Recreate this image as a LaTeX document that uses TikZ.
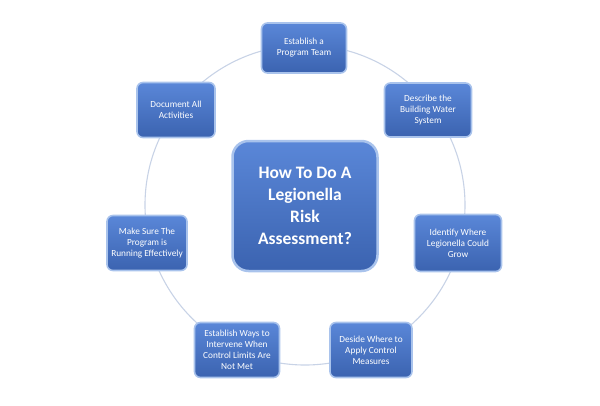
\documentclass[tikz,border=0pt]{standalone}
\usepackage{fontspec}
\setmainfont{Carlito}
\usepackage{tikz}
\definecolor{boxblue}{HTML}{4472C4}
\definecolor{boxtop}{HTML}{5A87D8}
\definecolor{boxbot}{HTML}{3B63B0}
\definecolor{ringgray}{HTML}{C8D3E6}
\definecolor{glow}{HTML}{A9C3EC}

\begin{document}
\begin{tikzpicture}[x=1pt, y=-1pt, font=\fontsize{9.3}{11}\selectfont,
    stepbox/.style={rounded corners=6pt, top color=boxtop, bottom color=boxbot,
      draw=glow, line width=1.6pt, text=white, align=center, inner sep=1pt},
    hubbox/.style={rounded corners=16pt, top color=boxtop, bottom color=boxbot,
      draw=glow, line width=2.5pt, text=white, align=center,
      font=\fontsize{17.5}{22}\selectfont\bfseries}]
  \useasboundingbox (0,0) rectangle (600,405);
  % ring behind the steps
  \draw[ringgray, line width=1.1pt] (305,205) circle (160);
  \node[hubbox, minimum width=145pt, minimum height=130pt] (hub) at (305,206)
    {How To Do A\\ Legionella\\ Risk\\ Assessment?};
  \node[stepbox, minimum width=85pt, minimum height=50pt] (team) at (304,48) {Establish a\\ Program Team};
  \node[stepbox, minimum width=87pt, minimum height=54pt] (water) at (428,110) {Describe the\\ Building Water\\ System};
  \node[stepbox, minimum width=87pt, minimum height=57pt] (grow) at (458,243) {Identify Where\\ Legionella Could\\ Grow};
  \node[stepbox, minimum width=82pt, minimum height=55pt] (apply) at (371,350) {Deside Where to\\ Apply Control\\ Measures};
  \node[stepbox, minimum width=85pt, minimum height=55pt] (limits) at (237,350) {Establish Ways to\\ Intervene When\\ Control Limits Are\\ Not Met};
  \node[stepbox, minimum width=80pt, minimum height=55pt] (running) at (147,243) {Make Sure The\\ Program is\\ Running Effectively};
  \node[stepbox, minimum width=78pt, minimum height=55pt] (docs) at (176,110) {Document All\\ Activities};
\end{tikzpicture}
\end{document}
